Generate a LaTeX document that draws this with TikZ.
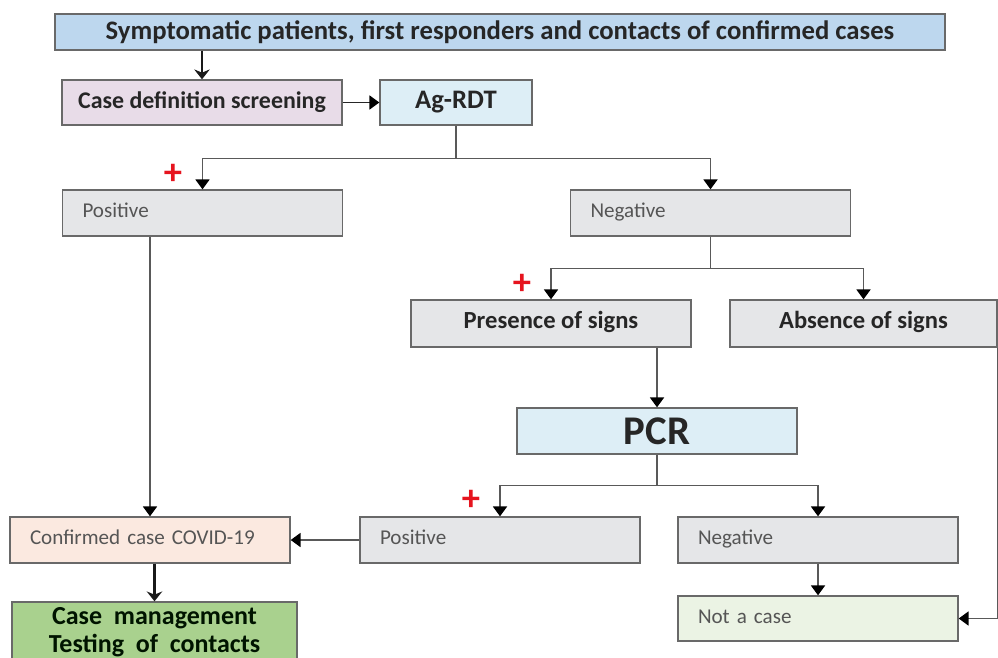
\documentclass[tikz,border=0pt]{standalone}
\usepackage{fontspec}
\setmainfont{Carlito}
\usetikzlibrary{arrows.meta}

\definecolor{azulCaja}{RGB}{189,215,238}
\definecolor{azulClaro}{RGB}{221,238,246}
\definecolor{rosaCaja}{RGB}{232,220,232}
\definecolor{grisCaja}{RGB}{229,230,232}
\definecolor{salmonCaja}{RGB}{251,233,224}
\definecolor{verdeClaro}{RGB}{235,243,228}
\definecolor{verdeCaja}{RGB}{169,209,142}
\definecolor{bordeCaja}{RGB}{105,105,105}
\definecolor{textoGris}{RGB}{85,85,85}
\definecolor{rojoMas}{RGB}{230,20,30}

\tikzset{
caja/.style={rectangle,draw=bordeCaja,line width=1pt,minimum width=7cm,minimum height=1.15cm,inner sep=0pt},
cajaGris/.style={caja,fill=grisCaja},
negrita/.style={font=\bfseries\fontsize{17.5}{19}\selectfont,text=black!85,text height=1.6ex,text depth=.25ex},
textoIzq/.style={text width=6cm,align=left,inner xsep=0.5cm,font=\fontsize{15}{17}\selectfont,text=textoGris,text height=1.6ex,text depth=.25ex},
flecha/.style={draw=black!65,line width=1pt,-{Triangle[width=10pt,length=7pt,color=black]}},
flechaGruesa/.style={draw=black!90,line width=2pt,-{Stealth[width=11pt,length=7pt]}},
mas/.style={text=rojoMas,font=\bfseries\fontsize{26}{26}\selectfont,inner sep=0pt}
}

\begin{document}
\begin{tikzpicture}
    \useasboundingbox (0,0) rectangle (24.95,-16.425);

    % cajas de arriba
    \node[caja,fill=azulCaja,minimum width=22.25cm,minimum height=0.9cm,font=\bfseries\fontsize{19}{21}\selectfont,text=black!85] (sintomas) at (12.5,-0.8) {Symptomatic patients, first responders and contacts of confirmed cases};
    \node[caja,fill=rosaCaja,minimum height=1.125cm,font=\bfseries\fontsize{17}{19}\selectfont,text=black!85] (definicion) at (5.05,-2.5625) {Case definition screening};
    \node[caja,fill=azulClaro,minimum width=3.8cm,minimum height=1.125cm,font=\bfseries\fontsize{19}{21}\selectfont,text=black!85] (agrdt) at (11.4,-2.5625) {Ag-RDT};

    % resultado Ag-RDT
    \node[cajaGris,textoIzq] (positivoAg) at (5.0625,-5.325) {Positive};
    \node[cajaGris,textoIzq,minimum width=6.975cm] (negativoAg) at (17.7625,-5.325) {Negative};

    \node[cajaGris,negrita,minimum height=1.175cm] (presencia) at (13.775,-8.0875) {Presence of signs};
    \node[cajaGris,negrita,minimum width=6.675cm,minimum height=1.175cm] (ausencia) at (21.5875,-8.0875) {Absence of signs};

    \node[caja,fill=azulClaro,font=\bfseries\fontsize{29}{31}\selectfont,text=black!85] (pcr) at (16.425,-10.775) {PCR};

    % resultado PCR
    \node[cajaGris,textoIzq] (positivoPcr) at (12.5,-13.5) {Positive};
    \node[cajaGris,textoIzq] (negativoPcr) at (20.45,-13.5) {Negative};
    \node[caja,fill=verdeClaro,textoIzq,minimum height=1.125cm] (noCaso) at (20.45,-15.4625) {Not a case};

    \node[caja,fill=salmonCaja,textoIzq] (confirmado) at (3.75,-13.5) {Confirmed case COVID-19};
    \node[caja,fill=verdeCaja,minimum width=7.125cm,minimum height=1.5cm,align=center,font=\bfseries\fontsize{18.5}{20}\selectfont,text=black!80!green!40!black] (manejo) at (3.8625,-15.8) {Case~~management\\Testing~~of~~contacts};

    \node[mas] (mas1) at (4.325,-4.35) {+};
    \node[mas] (mas2) at (13.05,-7.1) {+};
    \node[mas] (mas3) at (11.775,-12.5) {+};

    % conexiones
    \draw[flechaGruesa] (sintomas.south -| definicion.north) -- (definicion.north);
    \draw[flecha,draw=black!85] (definicion.east) -- (agrdt.west);

    \draw[flecha] (agrdt.south) -- ++(0,-0.825) -| (positivoAg.north);
    \draw[flecha] (agrdt.south) -- ++(0,-0.825) -| (negativoAg.north);

    \draw[flecha] (negativoAg.south) -- ++(0,-0.8) -| (presencia.north);
    \draw[flecha] (negativoAg.south) -- ++(0,-0.8) -| (ausencia.north);

    \draw[flecha] (presencia.south -| pcr.north) -- (pcr.north);

    \draw[flecha] (pcr.south) -- ++(0,-0.775) -| (positivoPcr.north);
    \draw[flecha] (pcr.south) -- ++(0,-0.775) -| (negativoPcr.north);

    \draw[flecha] (positivoPcr.west) -- (confirmado.east);
    \draw[flecha] (positivoAg.south -| confirmado.north) -- (confirmado.north);
    \draw[flechaGruesa] (confirmado.south -| manejo.north) -- (manejo.north);

    \draw[flecha] (negativoPcr.south) -- (noCaso.north);
    \draw[flecha] (ausencia.south east) |- (noCaso.east);
\end{tikzpicture}
\end{document}
